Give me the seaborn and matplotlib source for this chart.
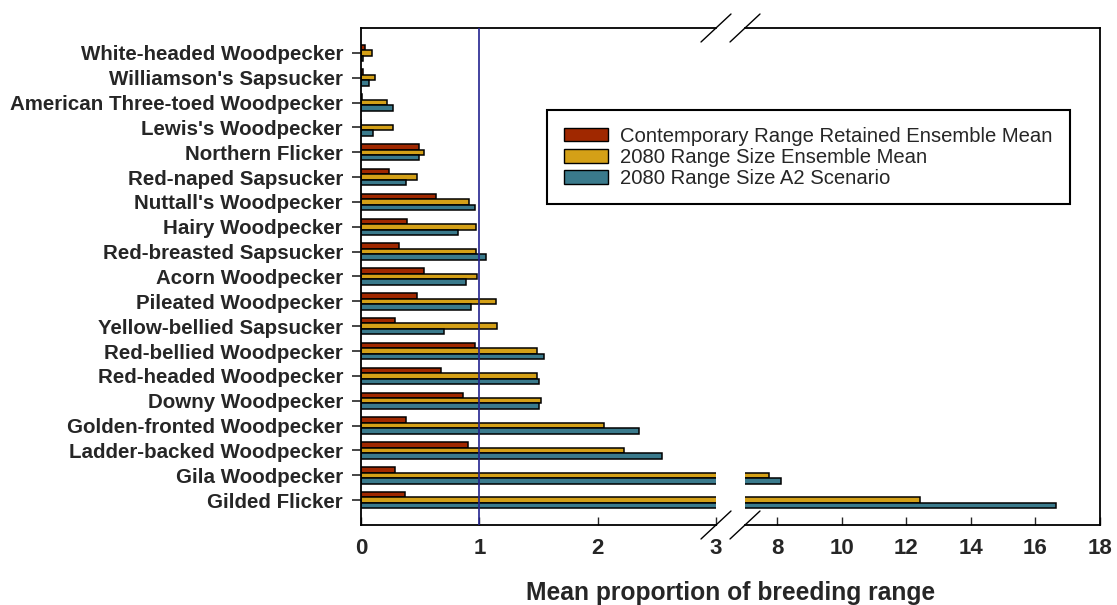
import matplotlib
matplotlib.use("Agg")
import matplotlib.pyplot as plt
import matplotlib.patches as mpatches
import seaborn as sns
import pandas as pd

species = [
    "White-headed Woodpecker", "Williamson's Sapsucker", "American Three-toed Woodpecker",
    "Lewis's Woodpecker", "Northern Flicker", "Red-naped Sapsucker", "Nuttall's Woodpecker",
    "Hairy Woodpecker", "Red-breasted Sapsucker", "Acorn Woodpecker", "Pileated Woodpecker",
    "Yellow-bellied Sapsucker", "Red-bellied Woodpecker", "Red-headed Woodpecker",
    "Downy Woodpecker", "Golden-fronted Woodpecker", "Ladder-backed Woodpecker",
    "Gila Woodpecker", "Gilded Flicker",
]
contemporary = [0.03, 0.02, 0.01, 0.0, 0.49, 0.24, 0.63, 0.39, 0.32, 0.53, 0.47, 0.29,
                0.96, 0.68, 0.86, 0.38, 0.90, 0.29, 0.37]
mean_2080 = [0.09, 0.12, 0.22, 0.27, 0.53, 0.47, 0.91, 0.97, 0.97, 0.98, 1.14, 1.15,
             1.49, 1.49, 1.52, 2.05, 2.22, 7.74, 12.43]
a2_2080 = [0.02, 0.07, 0.27, 0.10, 0.49, 0.38, 0.96, 0.82, 1.06, 0.89, 0.93, 0.70,
           1.55, 1.50, 1.50, 2.35, 2.54, 8.11, 16.64]
series_names = ["Contemporary Range Retained Ensemble Mean",
                "2080 Range Size Ensemble Mean",
                "2080 Range Size A2 Scenario"]
colors = ["#A02800", "#D4A017", "#3A7A8C"]
left_ticks = [0, 1, 2, 3]
right_ticks = [8, 10, 12, 14, 16, 18]
xlabel = "Mean proportion of breeding range"

sns.set_theme(style="white")
plt.rcParams['font.family'] = ['Liberation Sans', 'DejaVu Sans']

df = pd.DataFrame({"species": species,
                   series_names[0]: contemporary,
                   series_names[1]: mean_2080,
                   series_names[2]: a2_2080})
long = df.melt(id_vars="species", var_name="series", value_name="value")

W, H = 1117, 605
fig = plt.figure(figsize=(W / 100, H / 100), dpi=100)
bottom, top = 525, 28
axL = fig.add_axes([361 / W, (H - bottom) / H, 355 / W, (bottom - top) / H])
axR = fig.add_axes([745 / W, (H - bottom) / H, 355 / W, (bottom - top) / H])

for ax in (axL, axR):
    sns.barplot(data=long, y="species", x="value", hue="series", order=species,
                hue_order=series_names, palette=colors, orient="h", width=0.66,
                edgecolor="black", linewidth=1.1, saturation=1, ax=ax, legend=False)
    ax.set_ylim(19.0, -1.0)
    ax.set_xlabel("")
    ax.set_ylabel("")
    for s in ax.spines.values():
        s.set_color("black")
        s.set_linewidth(1.3)

axL.set_xlim(0, 3)
axR.set_xlim(7, 18)
axL.set_xticks(left_ticks)
axR.set_xticks(right_ticks)
axL.spines["right"].set_visible(False)
axR.spines["left"].set_visible(False)
axR.set_yticks([])

axL.tick_params(axis="y", left=True, direction="out", length=6.5, width=1.2, pad=6.5,
                labelsize=14.8)
for t in axL.get_yticklabels():
    t.set_fontweight("bold")
for ax in (axL, axR):
    ax.tick_params(axis="x", bottom=True, direction="in", length=5.5, width=1.0,
                   pad=9, labelsize=16)
    for t in ax.get_xticklabels():
        t.set_fontweight("bold")

axL.axvline(1, color="#23238f", lw=1.2, zorder=5)

# broken-axis marks
dx, dy = 15 / 355, 14 / 497
kw = dict(color="black", lw=1.0, clip_on=False)
for y0 in (0, 1):
    axL.plot([1 - dx, 1 + dx], [y0 - dy, y0 + dy], transform=axL.transAxes, **kw)
    axR.plot([-dx, dx], [y0 - dy, y0 + dy], transform=axR.transAxes, **kw)

fig.text(731 / W, (H - 593) / H, xlabel, ha="center", va="center",
         fontsize=17.7, fontweight="bold")

handles = [mpatches.Patch(facecolor=c, edgecolor="black", linewidth=1.0) for c in colors]
leg = fig.legend(handles, series_names, loc="upper left",
                 bbox_to_anchor=(547 / W, (H - 110) / H), frameon=True, fancybox=False,
                 edgecolor="black", framealpha=1, fontsize=14.6, handlelength=2.2,
                 handleheight=0.68, handletextpad=0.6, labelspacing=0.1,
                 borderpad=0.82, borderaxespad=0)
leg.get_frame().set_linewidth(1.5)

fig.savefig("out.png", dpi=100, facecolor="white")
